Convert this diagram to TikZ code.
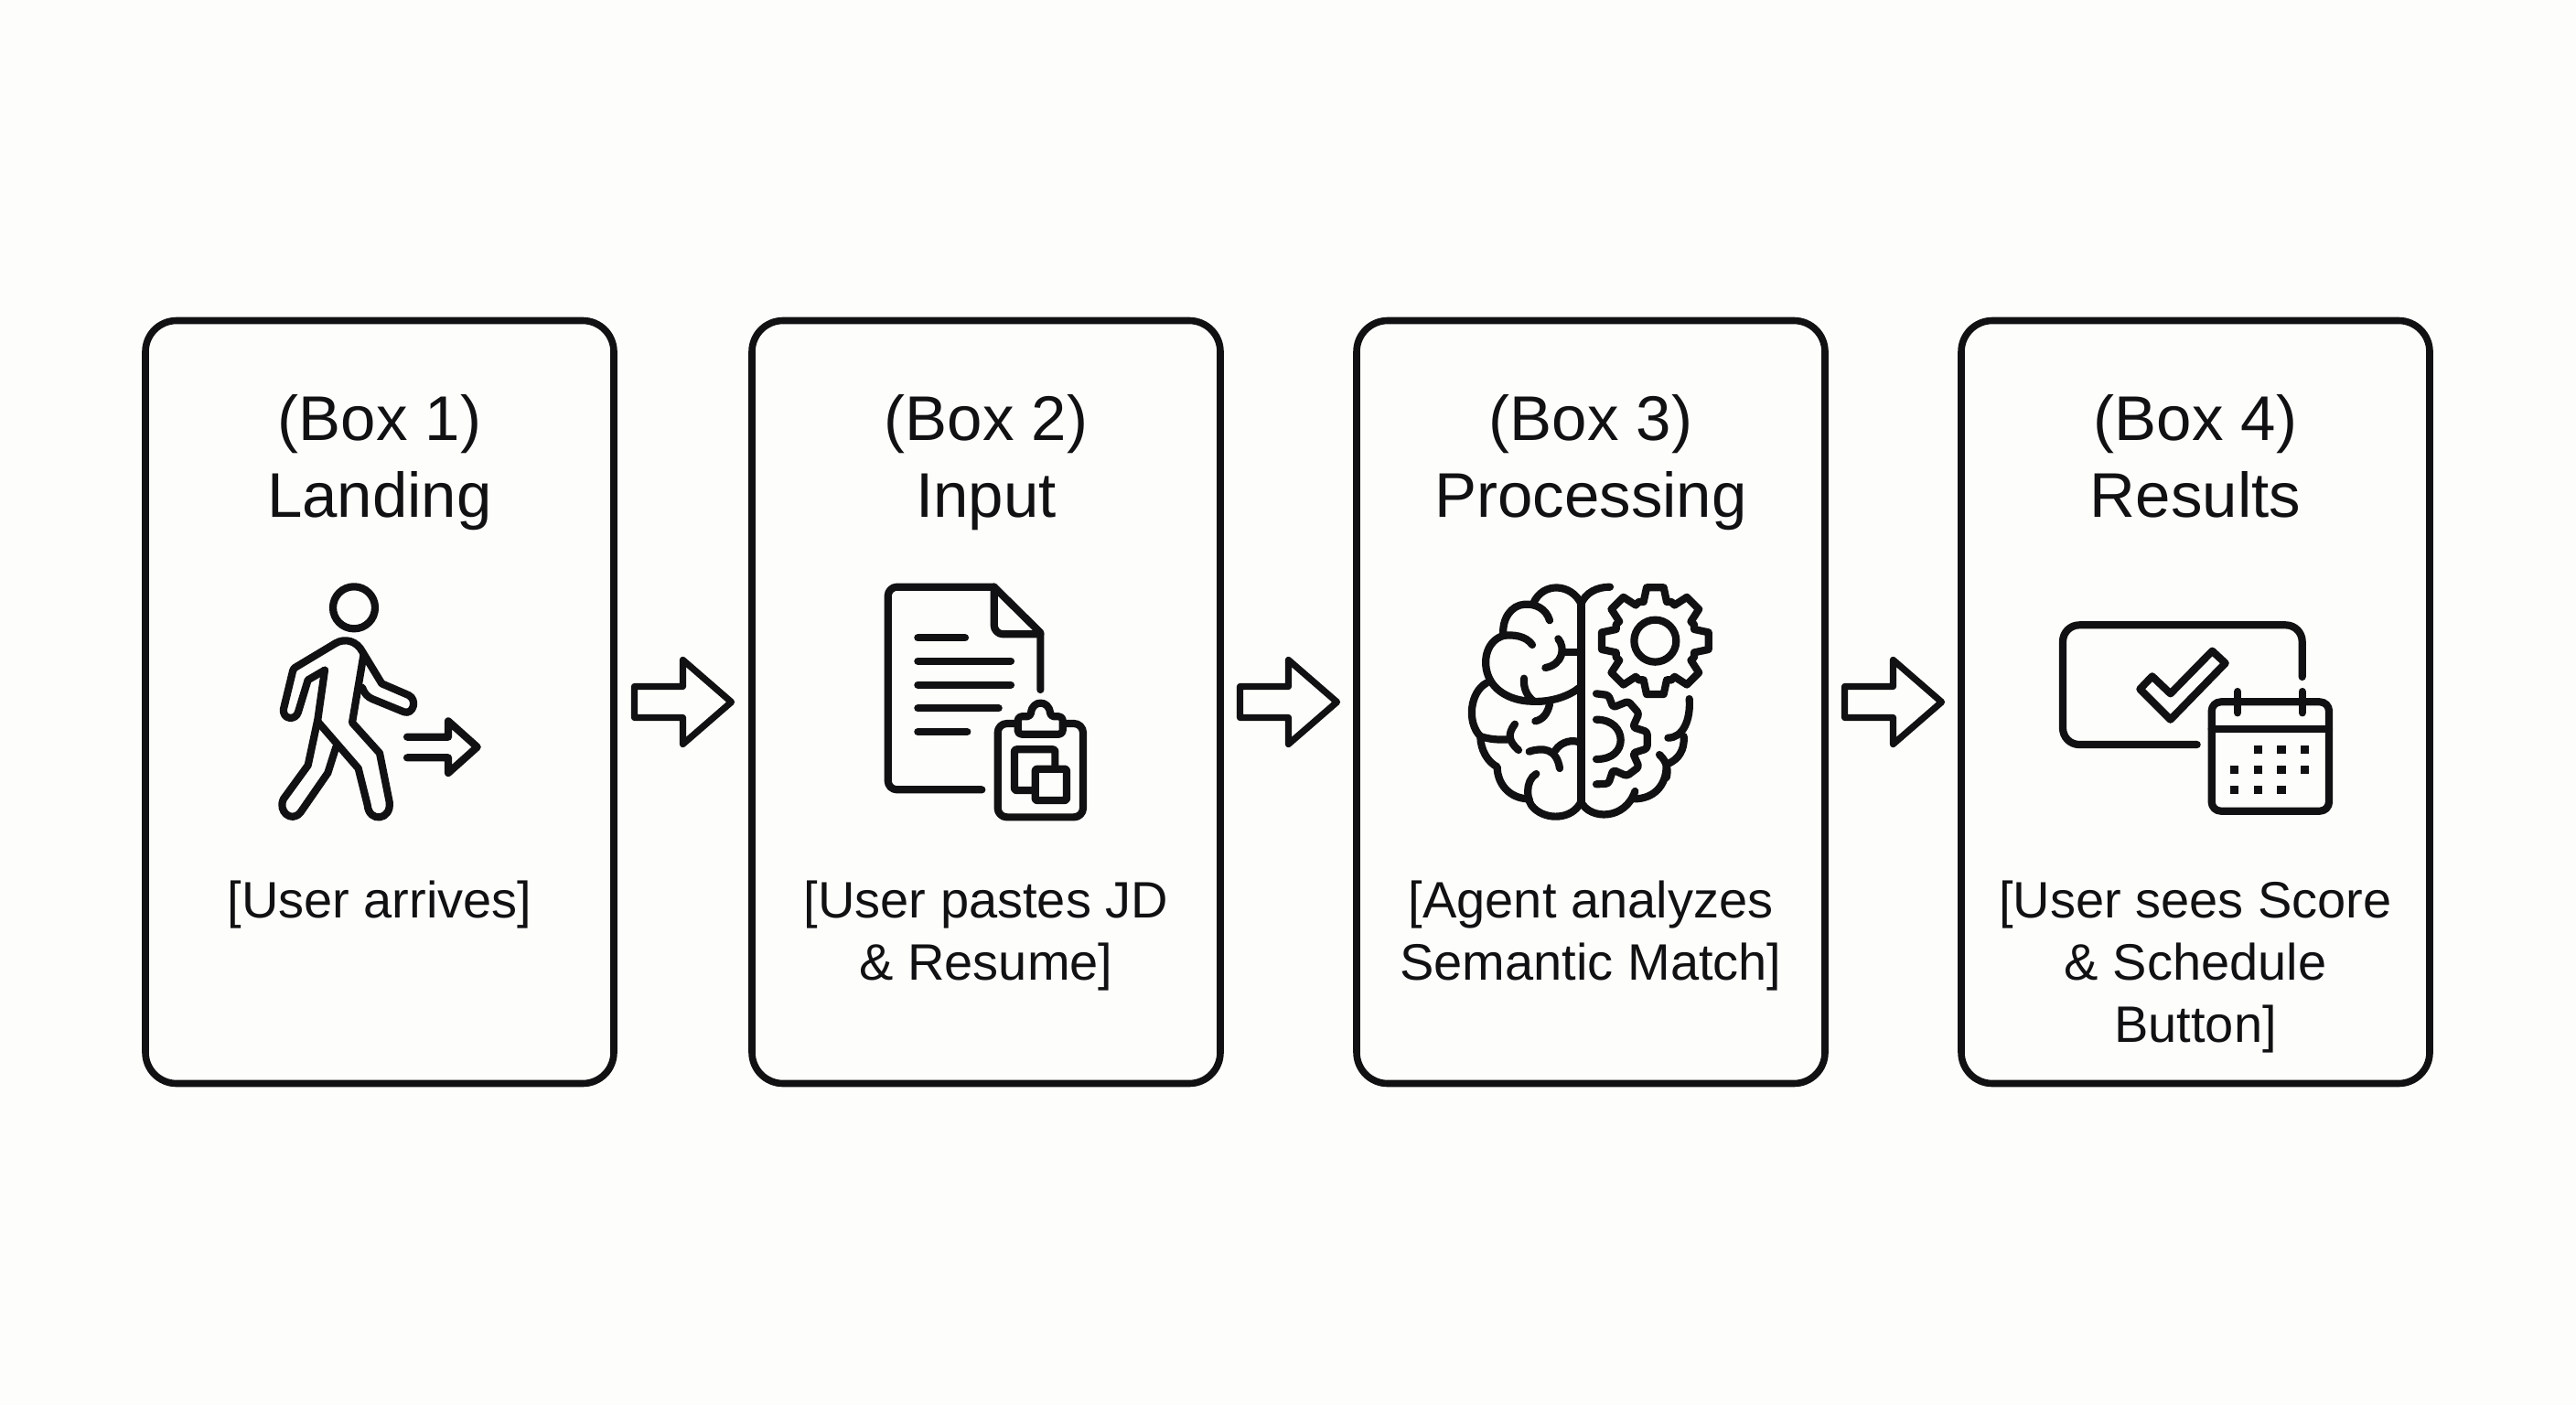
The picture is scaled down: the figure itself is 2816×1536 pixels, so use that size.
\documentclass[tikz,border=0pt]{standalone}
\usepackage{fontspec}
\setmainfont{Liberation Sans}
\usetikzlibrary{calc}
\definecolor{ink}{HTML}{111113}
\definecolor{paper}{HTML}{FDFDFB}
\tikzset{
  card/.style={draw=ink,line width=3.8pt,rounded corners=17pt,minimum width=256pt,minimum height=417pt,inner sep=0pt},
  cardtitle/.style={text=ink,align=center,anchor=north,font=\fontsize{34.5pt}{42pt}\selectfont,inner sep=0pt},
  cardbody/.style={text=ink,align=center,anchor=north,font=\fontsize{28pt}{34pt}\selectfont,inner sep=0pt},
  iconarea/.style 2 args={shift={(#1,#2)},x=0.16667pt,y=-0.16667pt},
  iconline/.style={draw=ink,line width=4.1pt,line cap=round,line join=round},
  blockarrow/.pic={\draw[draw=ink,line width=3.6pt,line join=round] (-53,-17)--(0,-17)--(0,-46)--(53,0)--(0,46)--(0,17)--(-53,17)--cycle;}
}
\begin{document}
\begin{tikzpicture}[x=0.5pt,y=-0.5pt]
\fill[paper] (0,0) rectangle (2816,1536);
\useasboundingbox (0,0) rectangle (2816,1536);

\node[card] (b1) at (415,767.5) {};
\node[card] (b2) at (1078,767.5) {};
\node[card] (b3) at (1739,767.5) {};
\node[card] (b4) at (2400,767.5) {};

\node[cardtitle] (t1) at (415,431) {(Box 1)\\Landing};
\node[cardtitle] (t2) at (1078,431) {(Box 2)\\Input};
\node[cardtitle] (t3) at (1739,431) {(Box 3)\\Processing};
\node[cardtitle] (t4) at (2400,431) {(Box 4)\\Results};

\node[cardbody] (d1) at (415,963) {[User arrives]};
\node[cardbody] (d2) at (1078,963) {[User pastes JD\\\& Resume]};
\node[cardbody] (d3) at (1739,963) {[Agent analyzes\\Semantic Match]};
\node[cardbody] (d4) at (2400,963) {[User sees Score\\\& Schedule\\Button]};

\path ($(b1.east)!.5!(b2.west)$) pic {blockarrow};
\path ($(b2.east)!.5!(b3.west)$) pic {blockarrow};
\path ($(b3.east)!.5!(b4.west)$) pic {blockarrow};

% walking person
\begin{scope}[iconarea={260}{610}]
\draw[iconline] (381,163) circle [radius=11.5pt];
\draw[iconline] (285,368) -- (230,400) -- (198,505) .. controls (190,535) and (145,530) .. (150,495) -- (178,380) .. controls (180,365) and (185,360) .. (195,355) -- (320,280) .. controls (350,262) and (390,270) .. (410,310) -- (472,412) -- (560,450) .. controls (590,465) and (575,515) .. (545,505) -- (440,462) .. controls (425,455) and (415,445) .. (408,425);
\draw[iconline] (285,368) -- (262,530) -- (230,680) -- (150,790) .. controls (130,830) and (175,870) .. (205,835) -- (295,705) -- (322,620);
\draw[iconline] (412,320) -- (375,540) -- (465,640) -- (497,800) .. controls (505,860) and (430,870) .. (425,810) -- (395,690) -- (265,540);
\draw[iconline] (555,587) -- (690,587) -- (690,535) -- (785,620) -- (690,705) -- (690,655) -- (555,655);
\end{scope}

% document and clipboard
\begin{scope}[iconarea={930}{610}]
\draw[iconline,rounded corners=5pt] (430,760) -- (122,760) -- (122,95) -- (470,95);
\draw[iconline] (470,95) -- (622,245) -- (622,432);
\draw[iconline,rounded corners=5pt] (470,95) -- (470,250) -- (622,250);
\draw[iconline] (220,262) -- (375,262) (220,338) -- (525,338) (220,416) -- (525,416) (220,493) -- (485,493) (220,570) -- (382,570);
\draw[iconline,rounded corners=5pt] (482,543) rectangle (762,850);
\draw[iconline,fill=paper,rounded corners=2pt] (548,578) -- (548,520) -- (590,520) .. controls (595,465) and (650,465) .. (655,520) -- (695,520) -- (695,578) -- cycle;
\draw[iconline,rounded corners=1pt] (537,628) rectangle (670,762);
\draw[iconline,fill=paper,rounded corners=1pt] (605,692) rectangle (708,795);
\end{scope}

% brain and gears
\begin{scope}[iconarea={1590}{610}]
\draw[iconline,line width=4.4pt] (415,150) -- (415,800);
\draw[iconline] (510,95) .. controls (465,95) and (430,115) .. (415,150);
\draw[iconline] (415,150) .. controls (385,85) and (290,75) .. (258,150);
\draw[iconline] (312,205) .. controls (300,165) and (265,150) .. (230,152) .. controls (185,155) and (155,200) .. (160,255);
\draw[iconline] (255,285) .. controls (235,255) and (190,250) .. (160,255) .. controls (110,270) and (90,330) .. (110,385) .. controls (130,440) and (190,468) .. (250,470) .. controls (320,475) and (380,450) .. (410,425);
\draw[iconline] (228,395) .. controls (225,430) and (240,455) .. (260,470);
\draw[iconline] (340,265) .. controls (365,295) and (355,350) .. (298,360);
\draw[iconline] (355,310) -- (410,310);
\draw[iconline] (105,410) .. controls (50,440) and (40,540) .. (85,585) .. controls (115,595) and (145,597) .. (178,595);
\draw[iconline] (198,545) .. controls (175,575) and (175,600) .. (210,630);
\draw[iconline] (312,480) .. controls (305,510) and (290,530) .. (265,535);
\draw[iconline] (85,585) .. controls (85,630) and (110,670) .. (140,685) .. controls (140,740) and (180,790) .. (245,790);
\draw[iconline] (245,635) .. controls (290,620) and (335,625) .. (345,690);
\draw[iconline] (330,632) .. controls (350,600) and (390,595) .. (410,605);
\draw[iconline] (268,708) .. controls (230,730) and (235,800) .. (260,820) .. controls (300,860) and (385,860) .. (415,800);
\draw[iconline] (415,800) .. controls (445,860) and (560,860) .. (592,765);
\draw[iconline] (590,790) .. controls (650,790) and (695,750) .. (695,680);
\draw[iconline] (672,645) .. controls (700,670) and (700,700) .. (695,720);
\draw[iconline] (700,675) .. controls (735,660) and (755,630) .. (752,585);
\draw[iconline] (700,590) .. controls (750,590) and (775,530) .. (770,462);
\begin{scope}[shift={(658,272)}]
\draw[iconline] (0,0) circle [radius=11.5pt];
\foreach \a in {0,45,...,315}
  \draw[iconline,rotate=\a] (-53,-128) -- (-38,-128) -- (-28,-175) -- (28,-175) -- (38,-128) -- (53,-128);
\end{scope}
\draw[iconline] (465,530) .. controls (520,530) and (545,565) .. (545,597) .. controls (545,630) and (520,660) .. (465,660);
\draw[iconline,rounded corners=1.5pt] (465,445) -- (505,450) -- (520,490) -- (570,470) -- (605,510) -- (585,555) -- (632,570) -- (632,625) -- (585,640) -- (605,685) -- (565,715) -- (520,695) -- (505,740) -- (465,742);
\end{scope}

% check card and calendar
\begin{scope}[iconarea={2230}{650}]
\draw[iconline,rounded corners=9pt] (515,492) -- (75,492) -- (75,100) -- (860,100) -- (860,270);
\draw[iconline] (368,268) -- (428,325) -- (565,185) -- (608,225) -- (428,410) -- (328,310) -- cycle;
\draw[iconline,rounded corners=5pt] (563,352) rectangle (948,710);
\draw[iconline] (563,440) -- (948,440);
\draw[iconline] (648,318) -- (648,388) (860,318) -- (860,388);
\foreach \px/\py in {715/508,792/508,868/508,638/575,715/575,792/575,868/575,638/640,715/640,792/640}
  \fill[ink] (\px-14,\py-13) rectangle (\px+14,\py+13);
\end{scope}
\end{tikzpicture}
\end{document}
